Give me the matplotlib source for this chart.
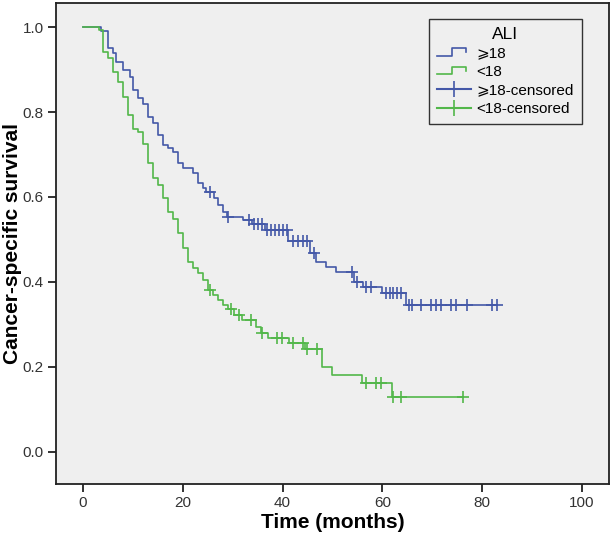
import numpy as np
import matplotlib
matplotlib.use("Agg")
import matplotlib.pyplot as plt
from matplotlib.lines import Line2D
from matplotlib.legend_handler import HandlerBase

plt.rcParams['font.family'] = ['Liberation Sans', 'DejaVu Sans']

# ALI >= 18 : event times (months) and survival after each drop
hi_times = [3.6, 5.0, 6.0, 6.6, 8.0, 9.4, 10.1, 11.1, 12.1, 13.1, 14.1, 15.1, 16.1,
            17.1, 18.1, 19.1, 20.1, 22.1, 23.1, 24.1, 24.6, 26.2, 27.1, 28.1, 28.8,
            32.1, 33.8, 36.5, 41.1, 45.5, 46.8, 48.8, 50.8, 54.3, 56.1, 59.9, 64.8]
hi_surv = [0.99, 0.95, 0.938, 0.918, 0.899, 0.883, 0.852, 0.832, 0.82, 0.789, 0.773,
           0.746, 0.722, 0.715, 0.707, 0.679, 0.668, 0.656, 0.632, 0.62, 0.612, 0.597,
           0.581, 0.565, 0.554, 0.546, 0.536, 0.522, 0.497, 0.469, 0.448, 0.436, 0.424,
           0.40, 0.389, 0.374, 0.347]
hi_censor = [25.5, 29.0, 33.2, 34.2, 35.0, 35.8, 36.9, 37.7, 38.5, 39.3, 40.1, 40.8,
             42.1, 43.1, 44.1, 44.9, 46.3, 53.9, 55.0, 56.8, 57.8, 60.8, 61.5, 62.2,
             62.9, 63.8, 65.3, 65.9, 67.7, 69.7, 70.7, 71.7, 73.7, 74.7, 76.9, 81.9, 82.9]

# ALI < 18
lo_times = [3.1, 3.9, 5.1, 6.1, 7.1, 8.1, 9.1, 10.1, 11.1, 12.1, 13.1, 14.1, 15.1,
            16.1, 17.0, 18.1, 19.1, 20.1, 21.1, 22.1, 23.1, 24.1, 25.0, 26.1, 27.1,
            28.1, 29.1, 30.2, 31.8, 34.6, 35.6, 37.0, 41.3, 44.5, 47.9, 49.9, 56.0, 61.9]
lo_surv = [0.993, 0.942, 0.926, 0.895, 0.871, 0.836, 0.793, 0.76, 0.752, 0.725, 0.679,
           0.644, 0.628, 0.597, 0.565, 0.548, 0.515, 0.481, 0.448, 0.432, 0.42, 0.405,
           0.381, 0.369, 0.358, 0.346, 0.336, 0.322, 0.31, 0.293, 0.279, 0.268, 0.256,
           0.242, 0.201, 0.181, 0.163, 0.13]
lo_censor = [25.4, 29.7, 31.3, 33.7, 35.9, 38.9, 39.9, 42.1, 44.0, 44.9, 47.0,
             56.8, 58.8, 59.8, 62.2, 63.8, 76.1]

blue = '#4458a8'
green = '#52b74a'


def km_curve(ax, times, surv, censor, color):
    t = np.concatenate([[0.0], times, [max(censor)]])
    s = np.concatenate([[1.0], surv, [surv[-1]]])
    ax.step(t, s, where='post', color=color, lw=1.2, zorder=3)
    idx = np.searchsorted(t, censor, side='right') - 1
    ax.plot(censor, s[idx], ls='none', marker='+', ms=8, mew=1.2,
            color=color, zorder=4)


class StepHandler(HandlerBase):
    # survival-line legend symbol: low run, step up, top run, short drop
    def create_artists(self, legend, orig_handle, xdescent, ydescent,
                       width, height, fontsize, trans):
        w, h = width, height
        xs = [-xdescent, 0.45 * w, 0.45 * w, 0.85 * w, 0.85 * w]
        ys = [0.15 * h, 0.15 * h, 0.85 * h, 0.85 * h, 0.5 * h]
        ln = Line2D(xs, ys, color=orig_handle.get_color(), lw=1.2,
                    transform=trans)
        return [ln]


fig = plt.figure(figsize=(6.1, 5.37), dpi=100)
ax = fig.add_axes([0.092, 0.099, 0.906, 0.895])
ax.set_facecolor('#efefef')

km_curve(ax, hi_times, hi_surv, hi_censor, blue)
km_curve(ax, lo_times, lo_surv, lo_censor, green)

ax.set_xlim(-5.4, 105.4)
ax.set_ylim(-0.075, 1.056)
ax.set_xticks([0, 20, 40, 60, 80, 100])
ax.set_yticks([0.0, 0.2, 0.4, 0.6, 0.8, 1.0])
ax.set_yticklabels(['0.0', '0.2', '0.4', '0.6', '0.8', '1.0'])
ax.tick_params(direction='out', length=6, width=1.3, labelsize=11,
               colors='#222222', labelcolor='#333333', pad=3)
for sp in ax.spines.values():
    sp.set_linewidth(1.3)
    sp.set_color('#222222')

ax.set_xlabel('Time (months)', fontsize=15, fontweight='bold', labelpad=2)
ax.set_ylabel('Cancer-specific survival', fontsize=15, fontweight='bold',
              labelpad=0)

handles = [Line2D([], [], color=blue), Line2D([], [], color=green),
           Line2D([], [], color=blue, marker='+', ms=11, mew=1.2),
           Line2D([], [], color=green, marker='+', ms=11, mew=1.2)]
labels = ['\u2a7e18', '<18', '\u2a7e18-censored', '<18-censored']
leg = ax.legend(handles, labels, title='ALI', loc='upper right',
                bbox_to_anchor=(0.951, 0.967), borderaxespad=0,
                fontsize=11, title_fontsize=12.5,
                handlelength=2.2, handletextpad=0.4, labelspacing=0.3,
                borderpad=0.5, fancybox=False, framealpha=1,
                handler_map={handles[0]: StepHandler(), handles[1]: StepHandler()})
leg.get_frame().set_edgecolor('#333333')
leg.get_frame().set_facecolor('#efefef')
leg.get_frame().set_linewidth(1.0)

fig.savefig('out.png', dpi=100, facecolor='white')
